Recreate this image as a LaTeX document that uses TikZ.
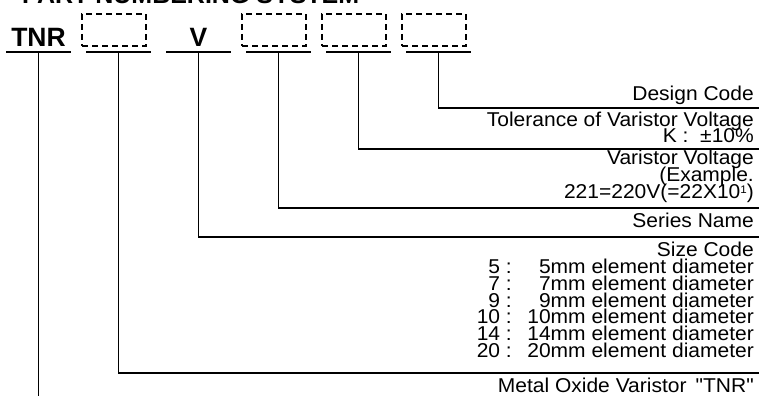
\documentclass[tikz,border=0pt]{standalone}
\usepackage{fontspec}
\setmainfont{Liberation Sans}
\newfontfamily\lblfam[FakeStretch=1.05]{Liberation Sans}
\newcommand{\lblfont}{\lblfam\fontsize{20}{20}\selectfont}
\newcommand{\codefont}{\bfseries\fontsize{26.5}{26.5}\selectfont}
\newcommand{\ttlfont}{\bfseries\fontsize{25}{25}\selectfont}
\begin{document}
\begin{tikzpicture}[x=1pt,y=-1pt,
  lbl/.style={anchor=base east, inner sep=0pt, font=\lblfont},
  num/.style={anchor=base east, inner sep=0pt, font=\lblfont},
  code/.style={anchor=base, inner sep=0pt, font=\codefont},
  under/.style={line width=2pt},
  conn/.style={line width=1.6pt},
  slot/.style={draw, line width=1.6pt, dash pattern=on 6pt off 4pt, minimum width=64pt, minimum height=32pt, inner sep=0pt}
]
\useasboundingbox (0,0) rectangle (759,396);
\clip (0,0) rectangle (759,396);
\fill[white] (0,0) rectangle (759,396);

% title (cut at the top edge)
\node[anchor=base west, inner sep=0pt, font=\ttlfont] (title) at (22,4) {PART NUMBERING SYSTEM};

% code fields
\node[code] (tnr) at (38.5,46) {TNR};
\node[slot] (b2) at (114,30) {};
\node[code] (v) at (198.5,46) {V};
\node[slot] (b3) at (274,30) {};
\node[slot] (b4) at (354,30) {};
\node[slot] (b5) at (434,30) {};

% underlines
\foreach \i/\cx in {1/38.5,2/118.5,3/198.5,4/278.5,5/358.5,6/438.5}{
  \coordinate (ul\i) at (\cx-32.5,52);
  \coordinate (ur\i) at (\cx+32.5,52);
  \coordinate (c\i) at (\cx,52);
  \draw[under] (ul\i) -- (ur\i);
}

% right ends of the leader lines
\coordinate (e6) at (759,108);
\coordinate (e5) at (759,149);
\coordinate (e4) at (759,208);
\coordinate (e3) at (759,237);
\coordinate (e2) at (759,373);
\coordinate (e1) at (38.5,396);

\draw[conn] (c6) |- (e6);
\draw[conn] (c5) |- (e5);
\draw[conn] (c4) |- (e4);
\draw[conn] (c3) |- (e3);
\draw[conn] (c2) |- (e2);
\draw[conn] (c1) -- (e1);

% labels
\node[lbl] (t1) at (754,100) {Design Code};
\node[lbl] (t2) at (754,126) {Tolerance of Varistor Voltage};
\node[lbl] (t3) at (754,142.5) {K :\ \ ±10\%};
\node[lbl] (t4) at (754,164) {Varistor Voltage};
\node[lbl] (t5) at (754,181) {(Example.};
\node[lbl] (t6) at (754,198) {221=220V(=22X10\raisebox{0.45ex}{\fontsize{11}{11}\selectfont 1})};
\node[lbl] (t7) at (754,227) {Series Name};
\node[lbl] (t8) at (754,256.7) {Size Code};
\foreach \k/\n in {0/5,1/7,2/9,3/10,4/14,5/20}{
  \node[num] (n\n) at (512,273.5+16.8*\k) {\n\ :};
  \node[lbl] (d\n) at (754,273.5+16.8*\k) {\n mm element diameter};
}
\node[lbl] (t9) at (754,392) {Metal Oxide Varistor \,"TNR"};
\end{tikzpicture}
\end{document}
